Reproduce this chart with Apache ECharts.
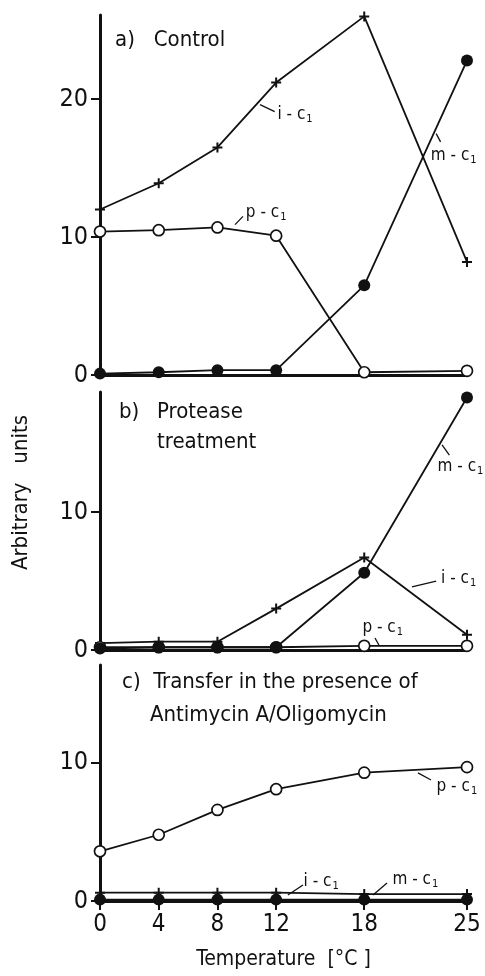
<!DOCTYPE html>
<html>
<head>
<meta charset="utf-8">
<script src="https://cdn.jsdelivr.net/npm/echarts@6/dist/echarts.min.js"></script>
<style>
  html, body { margin: 0; padding: 0; background: #fff; }
  #chart { width: 485px; height: 976px; }
</style>
</head>
<body>
<div id="chart"></div>
<script>
// temperatures (°C)
var temps = [0, 4, 8, 12, 18, 25];
var xTicks = [0, 4, 8, 12, 18, 25];
var yTicks = [0, 10, 20];

// a) Control
var ctrlI = [12.0, 13.9, 16.5, 21.2, 26.0, 8.2];
var ctrlP = [10.4, 10.5, 10.7, 10.1, 0.2, 0.3];
var ctrlM = [0.1, 0.2, 0.35, 0.35, 6.5, 22.8];
// b) Protease treatment
var protI = [0.5, 0.6, 0.6, 3.0, 6.7, 1.1];
var protP = [0.2, 0.2, 0.2, 0.2, 0.3, 0.3];
var protM = [0.1, 0.2, 0.2, 0.2, 5.6, 18.3];
// c) Antimycin A/Oligomycin
var antiI = [0.6, 0.6, 0.6, 0.6, 0.5, 0.5];
var antiP = [3.6, 4.8, 6.6, 8.1, 9.3, 9.7];
var antiM = [0.1, 0.1, 0.1, 0.1, 0.1, 0.1];

var FONT = "'DejaVu Sans Condensed', 'Liberation Sans Narrow', sans-serif";
var INK = "#111";
var PLUS = "path://M4,0H6V4H10V6H6V10H4V6H0V4H4Z";

// leader line [from, to] and label anchor, in data units
function note(txt, from, to, at) {
  return { txt: txt, from: from, to: to, at: at };
}

function mkSeries(values, kind, idx, n) {
  var s = {
    type: "line",
    xAxisIndex: idx,
    yAxisIndex: idx,
    data: temps.map(function (t, i) { return [t, values[i]]; }),
    lineStyle: { color: INK, width: 1.8 },
    animation: false,
    silent: true,
    z: kind === "m" ? 5 : (kind === "p" ? 4 : 3)
  };
  if (kind === "i") {
    s.symbol = PLUS;
    s.symbolSize = 10;
    s.itemStyle = { color: INK };
  } else if (kind === "p") {
    s.symbol = "circle";
    s.symbolSize = 11;
    s.itemStyle = { color: "#fff", borderColor: INK, borderWidth: 1.7 };
  } else {
    s.symbol = "circle";
    s.symbolSize = 12;
    s.itemStyle = { color: INK };
  }
  if (n) {
    s.markLine = {
      silent: true,
      animation: false,
      symbol: ["none", "none"],
      lineStyle: { color: INK, width: 1.3, type: "solid" },
      label: { show: false },
      data: [[{ coord: n.from }, { coord: n.to }]]
    };
    s.markPoint = {
      silent: true,
      animation: false,
      symbol: "circle",
      symbolSize: 1,
      itemStyle: { color: "rgba(0,0,0,0)" },
      label: {
        show: true,
        position: "right",
        distance: 0,
        formatter: "{t|" + n.txt + "}{s|1}",
        rich: {
          t: { fontFamily: FONT, fontSize: 17, color: INK, lineHeight: 20 },
          s: { fontFamily: FONT, fontSize: 11, color: INK, verticalAlign: "bottom", padding: [9, 0, 0, 1] }
        }
      },
      data: [{ coord: n.at }]
    };
  }
  return s;
}

var grids = [
  { left: 100, right: 18, top: 15, bottom: 601 },
  { left: 100, right: 18, top: 392, bottom: 326 },
  { left: 100, right: 18, top: 665, bottom: 75 }
];
var yMax = [26.1, 18.7, 17.1];

var xAxes = grids.map(function (g, i) {
  var last = i === 2;
  return {
    type: "value",
    gridIndex: i,
    min: 0,
    max: 25,
    axisLine: { show: true, onZero: false, lineStyle: { color: INK, width: 3 } },
    axisTick: { show: last, length: 9, customValues: xTicks, lineStyle: { color: INK, width: 2 } },
    axisLabel: { show: last, customValues: xTicks, margin: 12, fontFamily: FONT, fontSize: 24, color: INK },
    splitLine: { show: false },
    name: last ? "Temperature  [°C ]" : "",
    nameLocation: "middle",
    nameGap: 48,
    nameTextStyle: { fontFamily: FONT, fontSize: 21, color: INK }
  };
});

var yAxes = grids.map(function (g, i) {
  return {
    type: "value",
    gridIndex: i,
    min: 0,
    max: yMax[i],
    axisLine: { show: true, lineStyle: { color: INK, width: 3 } },
    axisTick: { show: true, length: 9, customValues: yTicks, lineStyle: { color: INK, width: 2 } },
    axisLabel: { show: true, customValues: yTicks, margin: 12, fontFamily: FONT, fontSize: 25, color: INK },
    splitLine: { show: false }
  };
});

var series = [
  mkSeries(ctrlI, "i", 0, note("i - c", [10.9, 19.6], [11.9, 19.1], [12.05, 18.9])),
  mkSeries(ctrlM, "m", 0, note("m - c", [22.9, 17.5], [23.2, 16.9], [22.5, 15.9])),
  mkSeries(ctrlP, "p", 0, note("p - c", [9.2, 10.9], [9.74, 11.5], [9.9, 11.8])),
  mkSeries(protI, "i", 1, note("i - c", [21.25, 4.57], [22.9, 5.0], [23.2, 5.2])),
  mkSeries(protM, "m", 1, note("m - c", [23.3, 14.86], [23.8, 14.13], [22.96, 13.26])),
  mkSeries(protP, "p", 1, note("p - c", [18.73, 0.87], [19.0, 0.36], [17.84, 1.59])),
  mkSeries(antiI, "i", 2, note("i - c", [12.8, 0.43], [13.83, 1.16], [13.83, 1.38])),
  mkSeries(antiM, "m", 2, note("m - c", [18.6, 0.43], [19.55, 1.3], [19.89, 1.52])),
  mkSeries(antiP, "p", 2, note("p - c", [21.66, 9.28], [22.55, 8.77], [22.89, 8.26]))
];

var titleStyle = { fontFamily: FONT, fontSize: 22, fontWeight: "normal", color: INK, lineHeight: 30 };

var chart = echarts.init(document.getElementById("chart"), null, { renderer: "canvas" });
chart.setOption({
  backgroundColor: "#fff",
  animation: false,
  title: [
    { text: "a)   Control", left: 110, top: 20, textStyle: titleStyle },
    { text: "b)", left: 114, top: 392, textStyle: titleStyle },
    { text: "Protease\ntreatment", left: 152, top: 392, textStyle: titleStyle },
    { text: "c)  Transfer in the presence of", left: 117, top: 662, textStyle: titleStyle },
    { text: "Antimycin A/Oligomycin", left: 145, top: 695, textStyle: titleStyle }
  ],
  graphic: [{
    type: "text",
    left: 10,
    top: 415,
    rotation: Math.PI / 2,
    style: { text: "Arbitrary   units", font: "22px " + FONT, fill: INK }
  }],
  grid: grids,
  xAxis: xAxes,
  yAxis: yAxes,
  series: series
});
</script>
</body>
</html>
